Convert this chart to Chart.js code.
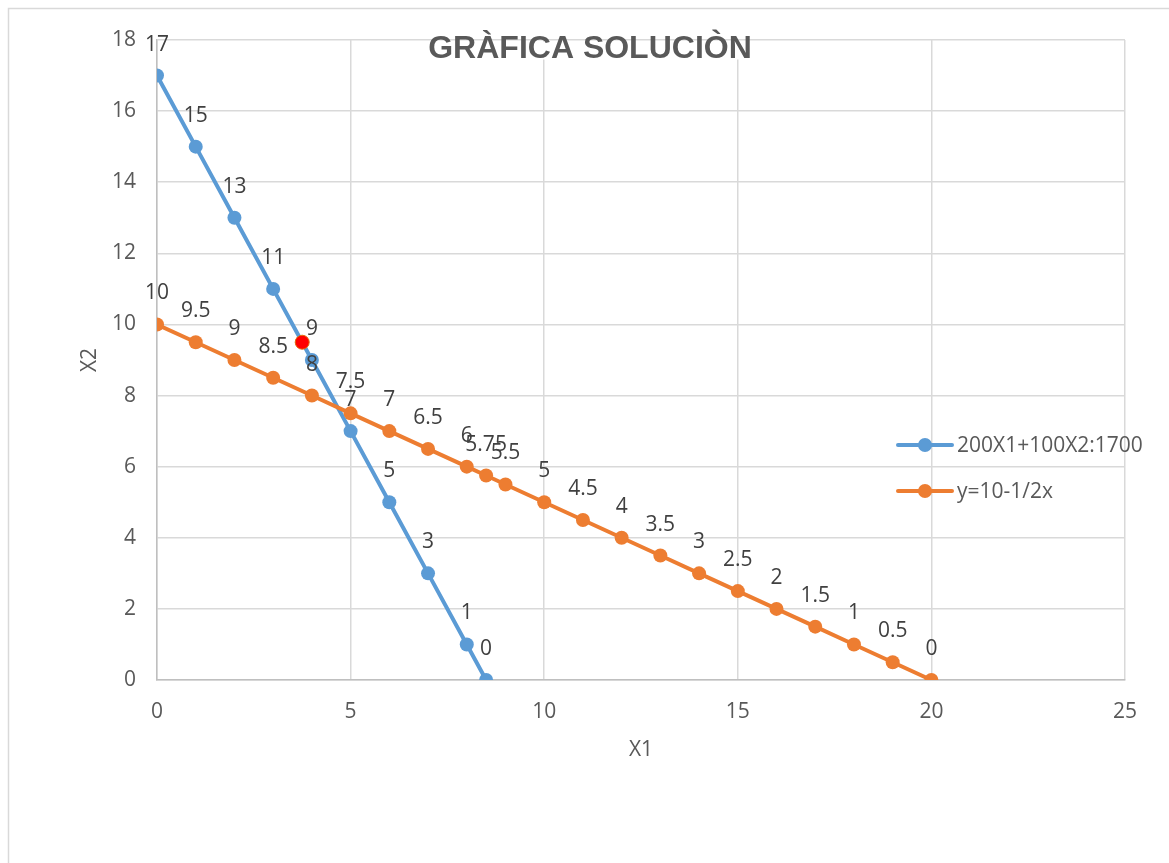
<!DOCTYPE html>
<html>
<head>
<meta charset="utf-8">
<script src="https://cdn.jsdelivr.net/npm/chart.js@4/dist/chart.umd.min.js"></script>
<style>
  html, body { margin: 0; padding: 0; background: #ffffff; }
  #wrap { width: 1169px; height: 863px; }
</style>
</head>
<body>
<div id="wrap"><canvas id="c" width="1169" height="863"></canvas></div>
<script>
// Chart texts
const chartTitle = 'GRÀFICA SOLUCIÒN';
const xAxisTitle = 'X1';
const yAxisTitle = 'X2';
const seriesNames = ['200X1+100X2:1700', 'y=10-1/2x'];

// Constraint line 200X1 + 100X2 = 1700
const line1X = [0, 1, 2, 3, 4, 5, 6, 7, 8, 8.5];
const line1Y = [17, 15, 13, 11, 9, 7, 5, 3, 1, 0];

// Line y = 10 - x/2
const line2X = [0, 1, 2, 3, 4, 5, 6, 7, 8, 8.5, 9, 10, 11, 12, 13, 14, 15, 16, 17, 18, 19, 20];
const line2Y = [10, 9.5, 9, 8.5, 8, 7.5, 7, 6.5, 6, 5.75, 5.5, 5, 4.5, 4, 3.5, 3, 2.5, 2, 1.5, 1, 0.5, 0];

// Highlighted point
const markX = [3.75];
const markY = [9.5];

// Axis ticks
const xTicks = [0, 5, 10, 15, 20, 25];
const yTicks = [0, 2, 4, 6, 8, 10, 12, 14, 16, 18];

const BLUE = '#5B9BD5';
const ORANGE = '#ED7D31';
const FONT = "'Open Sans', 'Noto Sans', sans-serif";
const TEXT_SIZE = 21;

const toPoints = (xs, ys) => xs.map((x, i) => ({ x: x, y: ys[i] }));

// Outer frame of the chart
const framePlugin = {
  id: 'frame',
  beforeDraw(chart) {
    const ctx = chart.ctx;
    ctx.save();
    ctx.fillStyle = '#ffffff';
    ctx.fillRect(0, 0, chart.width, chart.height);
    ctx.strokeStyle = '#d9d9d9';
    ctx.lineWidth = 1.5;
    ctx.strokeRect(8.5, 8.5, chart.width + 20, chart.height + 20);
    ctx.restore();
  }
};

// Value labels above each point of the two lines
const valueLabelPlugin = {
  id: 'valueLabels',
  afterDatasetsDraw(chart) {
    const ctx = chart.ctx;
    ctx.save();
    ctx.font = TEXT_SIZE + 'px ' + FONT;
    ctx.fillStyle = '#404040';
    ctx.textAlign = 'center';
    ctx.textBaseline = 'middle';
    [0, 1].forEach(di => {
      const ds = chart.data.datasets[di];
      const meta = chart.getDatasetMeta(di);
      meta.data.forEach((pt, i) => {
        ctx.fillText(String(ds.data[i].y), pt.x, pt.y - 31);
      });
    });
    ctx.restore();
  }
};

// Title box and legend drawn over the plot
const titleLegendPlugin = {
  id: 'titleLegend',
  afterDraw(chart) {
    const ctx = chart.ctx;
    ctx.save();
    // title
    ctx.font = 'bold 32px "Liberation Sans", Arial, sans-serif';
    const tw = ctx.measureText(chartTitle).width;
    const cx = 590;
    ctx.fillStyle = '#ffffff';
    ctx.fillRect(cx - tw / 2 - 4, 41.5, tw + 8, 18);
    ctx.fillStyle = '#595959';
    ctx.textAlign = 'center';
    ctx.textBaseline = 'alphabetic';
    ctx.fillText(chartTitle, cx, 58);

    // legend
    const rows = [445, 491];
    ctx.font = TEXT_SIZE + 'px ' + FONT;
    ctx.textAlign = 'left';
    ctx.textBaseline = 'middle';
    [0, 1].forEach((di, r) => {
      const ds = chart.data.datasets[di];
      const y = rows[r];
      ctx.strokeStyle = ds.borderColor;
      ctx.lineWidth = 4;
      ctx.lineCap = 'round';
      ctx.beginPath();
      ctx.moveTo(898, y);
      ctx.lineTo(952, y);
      ctx.stroke();
      ctx.fillStyle = ds.pointBackgroundColor;
      ctx.beginPath();
      ctx.arc(925, y, 7, 0, Math.PI * 2);
      ctx.fill();
      ctx.fillStyle = '#595959';
      ctx.fillText(ds.label, 957, y + 1);
    });
    ctx.restore();
  }
};

new Chart(document.getElementById('c'), {
  type: 'scatter',
  data: {
    datasets: [
      {
        label: seriesNames[0],
        data: toPoints(line1X, line1Y),
        showLine: true,
        borderColor: BLUE,
        backgroundColor: BLUE,
        pointBackgroundColor: BLUE,
        pointBorderColor: BLUE,
        borderWidth: 4,
        pointRadius: 7,
        pointBorderWidth: 0,
        order: 2
      },
      {
        label: seriesNames[1],
        data: toPoints(line2X, line2Y),
        showLine: true,
        borderColor: ORANGE,
        backgroundColor: ORANGE,
        pointBackgroundColor: ORANGE,
        pointBorderColor: ORANGE,
        borderWidth: 4,
        pointRadius: 7,
        pointBorderWidth: 0,
        order: 1
      },
      {
        label: 'punto',
        data: toPoints(markX, markY),
        showLine: false,
        pointBackgroundColor: '#FF0000',
        pointBorderColor: '#E46C0A',
        pointBorderWidth: 1,
        pointRadius: 7,
        order: 0
      }
    ]
  },
  options: {
    responsive: false,
    animation: false,
    layout: { padding: { left: 8, right: 44, top: 40, bottom: 83 } },
    plugins: {
      legend: { display: false },
      title: { display: false },
      tooltip: { enabled: false }
    },
    scales: {
      x: {
        type: 'linear',
        min: 0,
        max: 25,
        afterBuildTicks: s => { s.ticks = xTicks.map(v => ({ value: v })); },
        afterFit: s => { s.height = 100; },
        grid: { color: '#d9d9d9', lineWidth: 1.5, drawTicks: false },
        border: { color: '#bfbfbf', width: 1.5 },
        ticks: { padding: 19, color: '#595959', font: { family: FONT, size: TEXT_SIZE } },
        title: {
          display: true,
          text: xAxisTitle,
          color: '#595959',
          font: { family: FONT, size: TEXT_SIZE },
          padding: { top: 0, bottom: 17 }
        }
      },
      y: {
        type: 'linear',
        min: 0,
        max: 18,
        afterBuildTicks: s => { s.ticks = yTicks.map(v => ({ value: v })); },
        afterFit: s => { s.width = 149; },
        grid: { color: '#d9d9d9', lineWidth: 1.5, drawTicks: false },
        border: { color: '#bfbfbf', width: 1.5 },
        ticks: { padding: 21, color: '#595959', font: { family: FONT, size: TEXT_SIZE } },
        title: {
          display: true,
          text: yAxisTitle,
          color: '#595959',
          font: { family: FONT, size: TEXT_SIZE },
          padding: { top: 69, bottom: 0 }
        }
      }
    }
  },
  plugins: [framePlugin, valueLabelPlugin, titleLegendPlugin]
});
</script>
</body>
</html>
